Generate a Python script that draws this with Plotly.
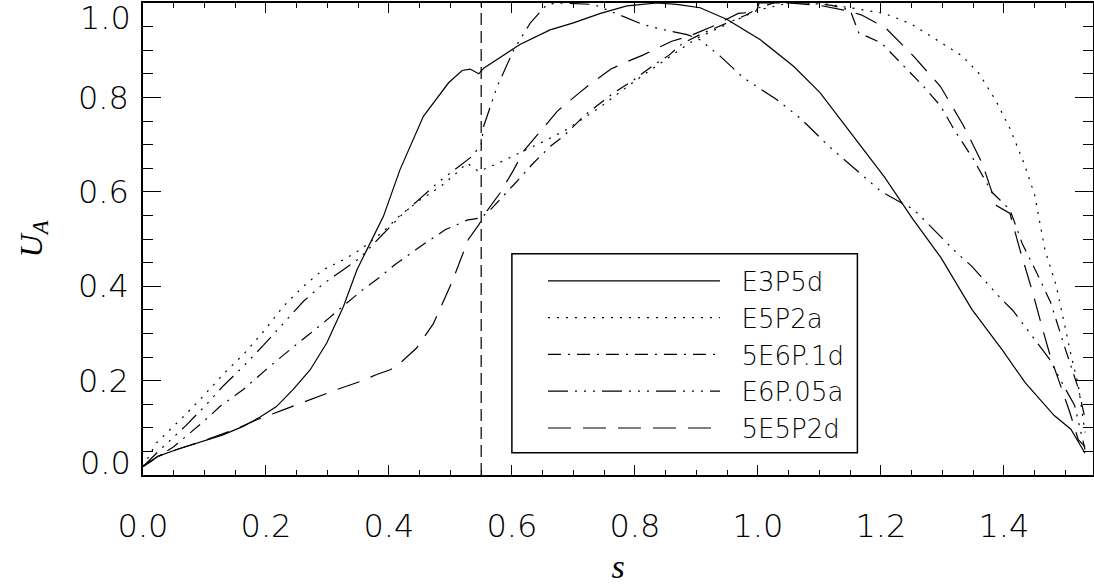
import plotly.graph_objects as go

# ---- data ----
S_E3P5d = [0, 0.025, 0.055, 0.098, 0.13, 0.163, 0.188, 0.217, 0.244, 0.272, 0.299, 0.326, 0.348, 0.364,
           0.391, 0.418, 0.456, 0.497, 0.519, 0.532, 0.546, 0.554, 0.592, 0.613, 0.662, 0.70, 0.744, 0.787,
           0.836, 0.868, 0.906, 0.95, 1.004, 1.058, 1.101, 1.15, 1.206, 1.252, 1.298, 1.348, 1.398, 1.435,
           1.482, 1.509, 1.532]
U_E3P5d = [0.018, 0.04, 0.054, 0.071, 0.085, 0.103, 0.121, 0.145, 0.181, 0.223, 0.28, 0.357, 0.435, 0.477,
           0.548, 0.647, 0.76, 0.831, 0.857, 0.86, 0.85, 0.862, 0.894, 0.912, 0.943, 0.958, 0.978, 0.994,
           1.0, 0.997, 0.99, 0.965, 0.922, 0.866, 0.81, 0.727, 0.631, 0.542, 0.46, 0.351, 0.264, 0.195,
           0.126, 0.097, 0.046]

S_E5P2a = [0, 0.022, 0.066, 0.098, 0.13, 0.163, 0.196, 0.228, 0.261, 0.293, 0.326, 0.353, 0.39, 0.418,
           0.451, 0.484, 0.51, 0.527, 0.546, 0.58, 0.618, 0.657, 0.689, 0.744, 0.8, 0.85, 0.9, 0.95, 1.0,
           1.05, 1.1, 1.15, 1.206, 1.25, 1.286, 1.331, 1.359, 1.387, 1.41, 1.433, 1.45, 1.467, 1.485, 1.499,
           1.51, 1.521, 1.527, 1.532]
U_E5P2a = [0.018, 0.068, 0.124, 0.167, 0.213, 0.255, 0.304, 0.357, 0.40, 0.435, 0.456, 0.477, 0.515, 0.55,
           0.583, 0.611, 0.64, 0.661, 0.643, 0.662, 0.686, 0.71, 0.732, 0.78, 0.835, 0.88, 0.925, 0.955, 0.985,
           1.0, 1.0, 0.99, 0.978, 0.955, 0.926, 0.889, 0.852, 0.793, 0.734, 0.66, 0.594, 0.476, 0.402, 0.315,
           0.25, 0.191, 0.141, 0.09]

S_5E6P1d = [0, 0.05, 0.1, 0.125, 0.163, 0.206, 0.249, 0.293, 0.331, 0.358, 0.386, 0.41, 0.451, 0.492, 0.51,
            0.527, 0.55, 0.565, 0.603, 0.635, 0.663, 0.685, 0.719, 0.764, 0.798, 0.832, 0.855, 0.878, 0.912,
            0.946, 0.98, 1.002, 1.025, 1.08, 1.12, 1.15, 1.164, 1.201, 1.232, 1.266, 1.297, 1.32, 1.35, 1.38,
            1.41, 1.43, 1.454, 1.476, 1.499, 1.521, 1.532]
U_5E6P1d = [0.018, 0.06, 0.115, 0.145, 0.181, 0.23, 0.276, 0.322, 0.364, 0.393, 0.42, 0.446, 0.484, 0.52, 0.53,
            0.54, 0.545, 0.562, 0.615, 0.661, 0.697, 0.719, 0.763, 0.808, 0.837, 0.87, 0.889, 0.915, 0.937,
            0.955, 0.974, 0.99, 1.0, 1.0, 0.995, 0.985, 0.937, 0.915, 0.873, 0.828, 0.782, 0.73, 0.67, 0.6,
            0.562, 0.49, 0.427, 0.366, 0.271, 0.184, 0.12]

S_E6P05a = [0, 0.025, 0.066, 0.1, 0.13, 0.163, 0.196, 0.228, 0.261, 0.293, 0.326, 0.353, 0.39, 0.42, 0.45,
            0.48, 0.51, 0.535, 0.55, 0.554, 0.576, 0.603, 0.63, 0.657, 0.678, 0.733, 0.765, 0.814, 0.841,
            0.885, 0.906, 0.939, 0.977, 1.031, 1.069, 1.115, 1.2, 1.254, 1.276, 1.323, 1.348, 1.393, 1.415,
            1.454, 1.474, 1.493, 1.515, 1.532]
U_E6P05a = [0.018, 0.05, 0.10, 0.145, 0.188, 0.23, 0.275, 0.32, 0.368, 0.405, 0.435, 0.46, 0.51, 0.55, 0.585,
            0.62, 0.65, 0.675, 0.70, 0.739, 0.823, 0.901, 0.958, 0.997, 1.0, 0.997, 0.98, 0.954, 0.945,
            0.933, 0.922, 0.887, 0.841, 0.795, 0.756, 0.697, 0.601, 0.562, 0.533, 0.471, 0.442, 0.377, 0.348,
            0.282, 0.246, 0.199, 0.148, 0.054]

S_5E5P2d = [0, 0.025, 0.055, 0.1, 0.15, 0.185, 0.228, 0.25, 0.293, 0.315, 0.353, 0.38, 0.402, 0.418, 0.445,
            0.472, 0.502, 0.516, 0.529, 0.546, 0.559, 0.581, 0.603, 0.619, 0.674, 0.708, 0.725, 0.761, 0.784,
            0.812, 0.86, 0.889, 0.929, 0.968, 0.997, 1.002, 1.05, 1.1, 1.14, 1.168, 1.207, 1.252, 1.297,
            1.334, 1.365, 1.388, 1.41, 1.426, 1.446, 1.465, 1.476, 1.507, 1.521, 1.532]
U_5E5P2d = [0.018, 0.04, 0.054, 0.073, 0.097, 0.117, 0.138, 0.149, 0.17, 0.181, 0.198, 0.213, 0.223, 0.237,
            0.269, 0.32, 0.407, 0.456, 0.499, 0.53, 0.559, 0.598, 0.647, 0.686, 0.771, 0.808, 0.826, 0.86,
            0.874, 0.889, 0.919, 0.93, 0.952, 0.978, 0.981, 1.0, 1.0, 0.995, 0.985, 0.975, 0.948, 0.889,
            0.823, 0.741, 0.66, 0.571, 0.554, 0.478, 0.391, 0.30, 0.25, 0.134, 0.075, 0.06]

VLINE_S = 0.55
X_RANGE = [0, 1.545]
Y_RANGE = [0, 1.0]
X_TICKS = [0.0, 0.2, 0.4, 0.6, 0.8, 1.0, 1.2, 1.4]
Y_TICKS = [0.0, 0.2, 0.4, 0.6, 0.8, 1.0]

series = [
    ("E3P5d", S_E3P5d, U_E3P5d, "solid"),
    ("E5P2a", S_E5P2a, U_E5P2a, "2px,7px"),
    ("5E6P.1d", S_5E6P1d, U_5E6P1d, "13px,7px,2px,7px"),
    ("E6P.05a", S_E6P05a, U_E6P05a, "20px,7px,2px,7px,2px,7px,2px,7px"),
    ("5E5P2d", S_5E5P2d, U_5E5P2d, "23px,12px"),
]

NBSP = "\u00a0"
fig = go.Figure()
for name, s, u, dash in series:
    fig.add_trace(go.Scatter(x=s, y=u, mode="lines", name=NBSP * 2 + name,
                             line=dict(color="black", width=1.2, dash=dash)))

fig.add_trace(go.Scatter(x=[VLINE_S, VLINE_S], y=Y_RANGE, mode="lines", showlegend=False,
                         line=dict(color="black", width=1.2, dash="12px,6px")))

tick_font = dict(family="DejaVu Sans", size=32, color="black", weight=200)

# y tick labels at the two ends are drawn inset (as in the reference)
y_ticktext = ["" if v in (Y_RANGE[0], Y_RANGE[1]) else f"{v:.1f}" for v in Y_TICKS]
annotations = [
    dict(text=f"{Y_RANGE[1]:.1f}", x=0, xref="paper", y=Y_RANGE[1], yref="y", xanchor="right",
         yanchor="middle", xshift=-10, yshift=-15, showarrow=False, font=tick_font),
    dict(text=f"{Y_RANGE[0]:.1f}", x=0, xref="paper", y=Y_RANGE[0], yref="y", xanchor="right",
         yanchor="middle", xshift=-10, yshift=12, showarrow=False, font=tick_font),
]

# legend frame (drawn as a box around the library legend)
shapes = [dict(type="rect", xref="paper", yref="paper", x0=0.3883, x1=0.752, y0=0.047, y1=0.469,
               line=dict(color="black", width=1.5), fillcolor="rgba(0,0,0,0)", layer="above")]

fig.update_layout(
    width=1094, height=585,
    margin=dict(l=143, r=1, t=3, b=110, autoexpand=False),
    paper_bgcolor="white", plot_bgcolor="white",
    showlegend=True,
    legend=dict(x=0.421, y=0.461, xanchor="left", yanchor="top",
                borderwidth=0, bgcolor="rgba(0,0,0,0)",
                font=dict(family="DejaVu Sans", size=26, color="black", weight=200),
                itemwidth=172, tracegroupgap=0),
    annotations=annotations,
    shapes=shapes,
    xaxis=dict(range=X_RANGE, tickvals=X_TICKS, ticktext=[f"{v:.1f}" for v in X_TICKS],
               ticks="inside", ticklen=10, tickwidth=1, tickcolor="black",
               minor=dict(dtick=0.05, ticks="inside", ticklen=5, tickcolor="black", tickwidth=1),
               showline=True, linecolor="black", linewidth=1.5, mirror="ticks",
               showgrid=False, zeroline=False, tickfont=tick_font, ticklabelstandoff=22,
               automargin=False, ticklabeloverflow="allow",
               title=dict(text="<i>s</i>", font=dict(family="Liberation Serif", size=34, color="black"),
                          standoff=10)),
    yaxis=dict(range=Y_RANGE, tickvals=Y_TICKS, ticktext=y_ticktext,
               ticks="inside", ticklen=18, tickwidth=1, tickcolor="black",
               minor=dict(dtick=0.05, ticks="inside", ticklen=10, tickcolor="black", tickwidth=1),
               showline=True, linecolor="black", linewidth=1.5, mirror="ticks",
               showgrid=False, zeroline=False, tickfont=tick_font, ticklabelstandoff=6,
               automargin=False, ticklabeloverflow="allow",
               title=dict(text="<i>U</i><sub><i>A</i></sub>",
                          font=dict(family="Liberation Serif", size=32, color="black"), standoff=26)),
)

fig.write_html("out.html",
               config={"displayModeBar": False},
               post_script="document.body.style.margin='0';document.body.style.overflow='hidden';")
